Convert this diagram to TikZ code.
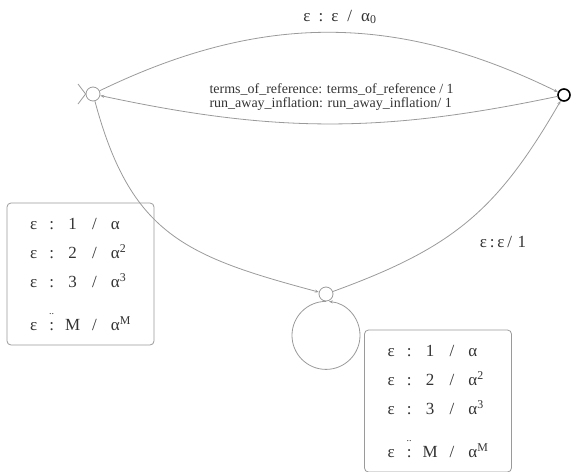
\documentclass[tikz,border=0pt]{standalone}
\usepackage{fontspec}
\setmainfont{Liberation Serif}
\usetikzlibrary{arrows.meta}

\definecolor{edgegray}{HTML}{9A9A9A}
\definecolor{txtgray}{HTML}{333333}

% one row of a weight box
\newcommand{\wrow}[2]{ε & : & #1 & / & α\textsuperscript{#2}}
\newcommand{\wbody}{%
  \begin{tabular}{@{}c@{\hspace{12pt}}c@{\hspace{11pt}}c@{\hspace{12pt}}c@{\hspace{14pt}}l@{}}
  \wrow{1}{}\\
  \wrow{2}{2}\\
  \wrow{3}{3}\\[14pt]
  ε & :\llap{\raisebox{16pt}{\fontsize{10}{10}\selectfont ..}} & M & / & α\textsuperscript{M}
  \end{tabular}}

\begin{document}
\begin{tikzpicture}[x=1pt,y=-1pt,
  every node/.style={text=txtgray},
  state/.style={draw=edgegray, circle, minimum size=14pt, inner sep=0pt, line width=0.8pt},
  final/.style={draw=black, circle, minimum size=12pt, inner sep=0pt, line width=1.6pt},
  edge/.style={draw=edgegray, line width=0.8pt},
  trans/.style={edge, -{Stealth[length=4pt,width=3pt]}},
  wbox/.style={draw=edgegray, rounded corners=4pt, line width=0.8pt,
    minimum width=147pt, minimum height=142pt, inner sep=0pt,
    font=\fontsize{17}{29}\selectfont},
  lbl/.style={font=\fontsize{17}{20}\selectfont}]
\useasboundingbox (0,0) rectangle (574,472);

% states
\node[state] (s0) at (93,94) {};
\node[final] (sf) at (564,95) {};
\node[state] (s1) at (326,294) {};
\coordinate (m1) at (78,84);
\coordinate (m2) at (78,104);
\draw[edge] (m1) -- (s0.west);
\draw[edge] (m2) -- (s0.west);

% transitions
\draw[trans] (s0) to[bend left=26] (sf);
\draw[trans] (sf) to[bend left=12] (s0);
\draw[trans] (s0) to[out=-75, in=165, looseness=1.2] (s1);
\draw[trans] (s1) to[out=20, in=-120, looseness=1.1] (sf);
\draw[trans] (s1.south) arc[start angle=90, delta angle=355, radius=34pt];

% labels
\node[lbl] (top) at (340,17) {ε\hspace{8pt}:\hspace{8pt}ε\hspace{9pt}/\hspace{9pt}α\textsubscript{0}};
\node[align=left, anchor=west, font=\fontsize{14}{14}\selectfont] (mid) at (206,97)
  {terms\_of\_reference: terms\_of\_reference / 1\\
   run\_away\_inflation: run\_away\_inflation/ 1};
\node[lbl] (right) at (503,242) {ε\,:\,ε\,/\,\,1};
\node[wbox] (wl) at (80.5,274) {\wbody};
\node[wbox] (wr) at (438,401) {\wbody};
\end{tikzpicture}
\end{document}
